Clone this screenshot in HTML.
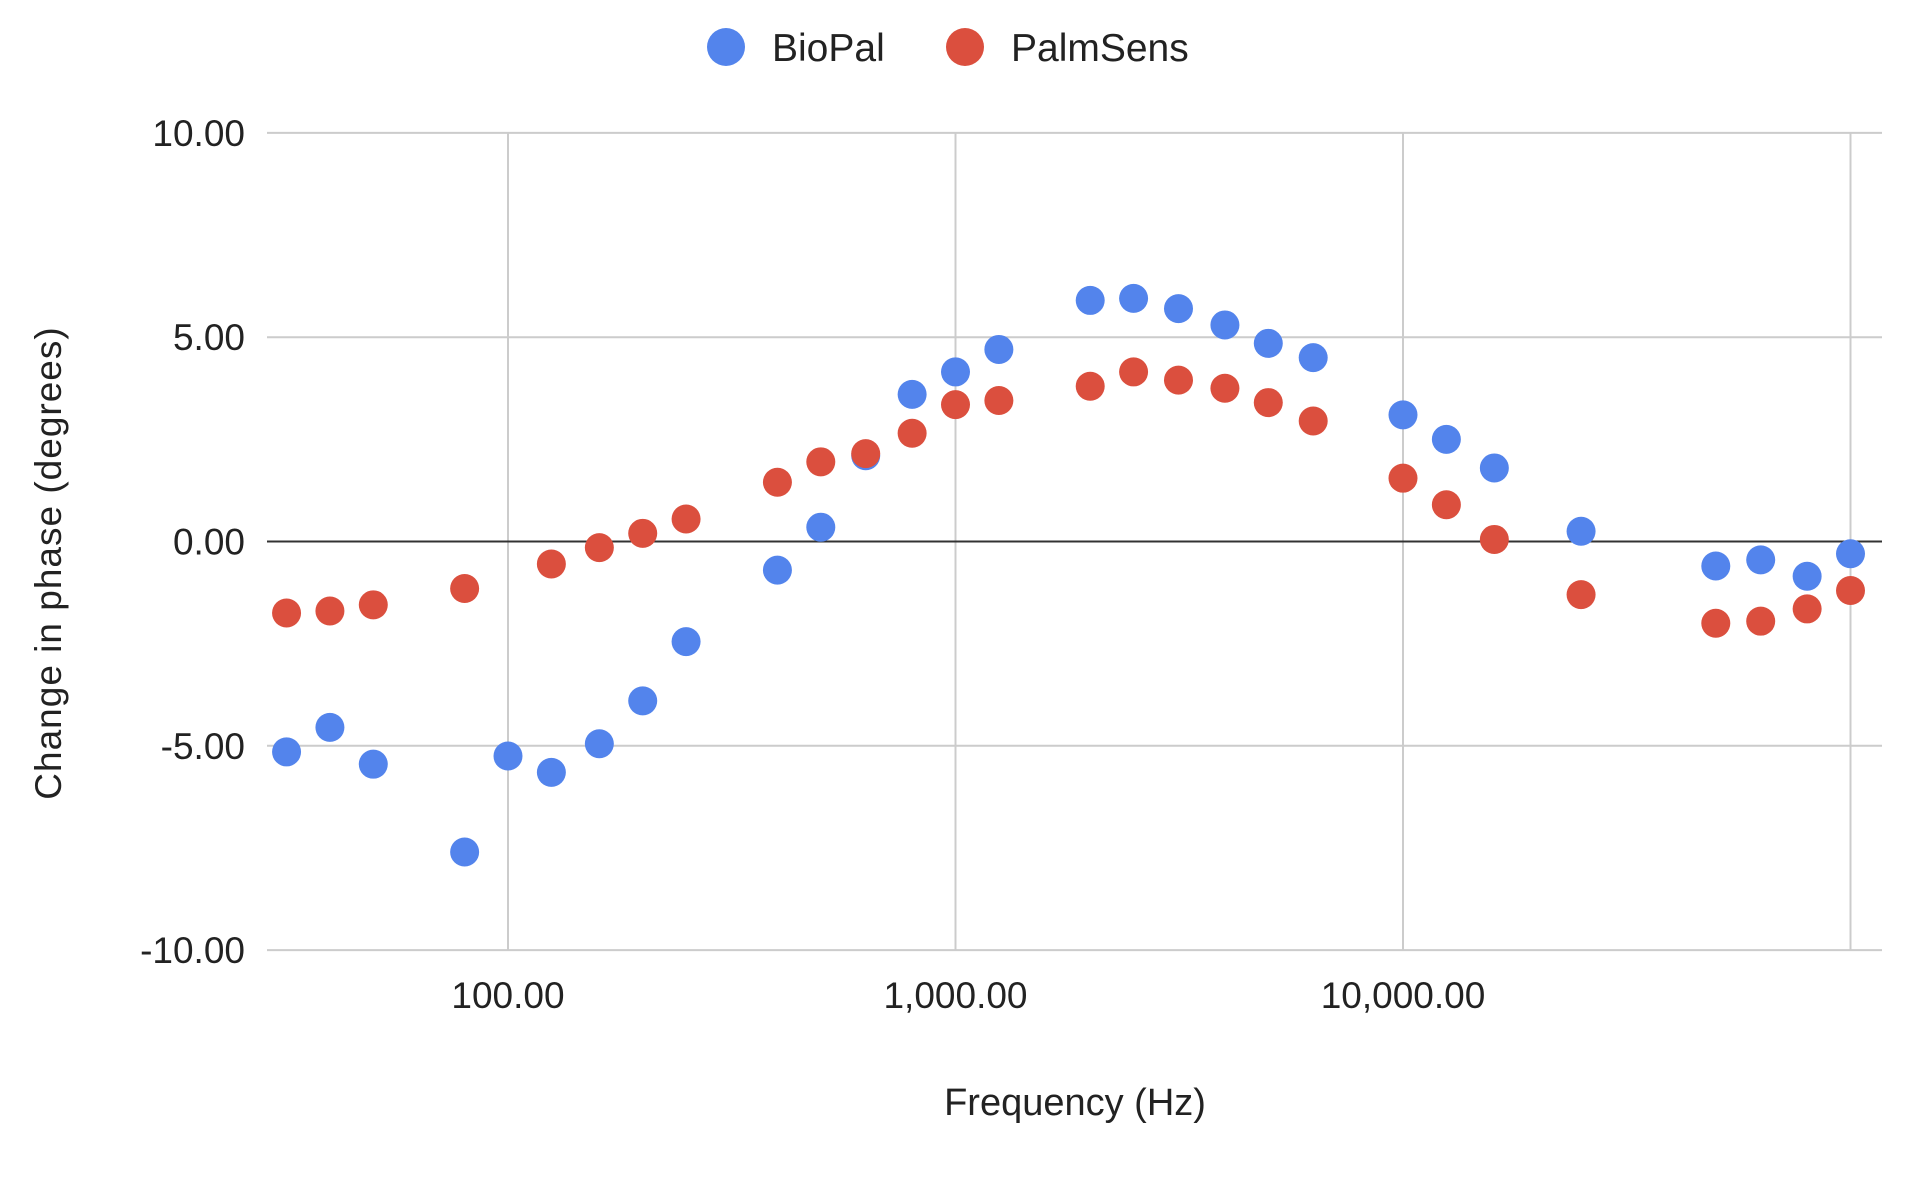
<!DOCTYPE html>
<html><head><meta charset="utf-8"><style>
body{margin:0;background:#fff}
svg{display:block;font-family:"Liberation Sans",Arial,sans-serif}
</style></head><body>
<svg id="chart" width="1910" height="1178" viewBox="0 0 1910 1178">
<g>
<circle cx="726" cy="47" r="19" fill="#5384ec"/>
<text x="772" y="61" font-size="39" fill="#222">BioPal</text>
<circle cx="965" cy="47" r="19" fill="#db4f3e"/>
<text x="1011" y="61" font-size="39" fill="#222">PalmSens</text>
</g>
<g id="grid"></g><g id="marks"></g><g id="labels"></g>
<text x="1075" y="1115" font-size="38" text-anchor="middle" fill="#222">Frequency (Hz)</text>
<text transform="translate(61,563) rotate(-90)" font-size="37" text-anchor="middle" fill="#222" letter-spacing="1">Change in phase (degrees)</text>
</svg>
<script>
const freqs=[32,40,50,80,100,125,160,200,250,400,500,630,800,1000,1250,2000,2500,3150,4000,5000,6300,10000,12500,16000,25000,50000,63000,80000,100000];
const biopal=[-5.15,-4.55,-5.45,-7.6,-5.25,-5.65,-4.95,-3.9,-2.45,-0.7,0.35,2.1,3.6,4.15,4.7,5.9,5.95,5.7,5.3,4.85,4.5,3.1,2.5,1.8,0.25,-0.6,-0.45,-0.85,-0.3];
const palmsens=[-1.75,-1.7,-1.55,-1.15,null,-0.55,-0.15,0.2,0.55,1.45,1.95,2.15,2.65,3.35,3.45,3.8,4.15,3.95,3.75,3.4,2.95,1.55,0.9,0.05,-1.3,-2.0,-1.95,-1.65,-1.2];
const yTicks=[10,5,0,-5,-10];
const yTickLabels=["10.00","5.00","0.00","-5.00","-10.00"];
const xTicks=[100,1000,10000,100000];
const xTickLabels=["100.00","1,000.00","10,000.00",""];
const NS="http://www.w3.org/2000/svg";
const L=267,R=1882;
function xs(f){return 508+(Math.log10(f)-2)*447.5;}
function ys(v){return 541.5-v*40.86;}
function mk(t,a,p){const e=document.createElementNS(NS,t);for(const k in a)e.setAttribute(k,a[k]);p.appendChild(e);return e;}
const g=document.getElementById('grid'),m=document.getElementById('marks'),lb=document.getElementById('labels');
xTicks.forEach((f,i)=>{
 const l=mk('line',{x1:xs(f),x2:xs(f),y1:ys(10),y2:ys(-10),stroke:'#ccc','stroke-width':2},g);
 
 
 const t=mk('text',{x:xs(f),y:1008,'font-size':37,'text-anchor':'middle',fill:'#222'},lb);
 t.textContent=xTickLabels[i];
 
 
});
yTicks.forEach((v,i)=>{
 const l=mk('line',{x1:L,x2:R,y1:ys(v),y2:ys(v),stroke:v===0?'#333':'#ccc','stroke-width':2},g);
 
 
 const t=mk('text',{x:245,y:ys(v)+13,'font-size':37,'text-anchor':'end',fill:'#222'},lb);
 t.textContent=yTickLabels[i];
 
 
});
function series(vals,color,name){
 vals.forEach((v,i)=>{ if(v===null)return;
  const c=mk('circle',{cx:xs(freqs[i]),cy:ys(v),r:14.5,fill:color},m);
  
  
 });
}
series(biopal,'#5384ec','biopal');
series(palmsens,'#db4f3e','palmsens');
</script>
</body></html>
